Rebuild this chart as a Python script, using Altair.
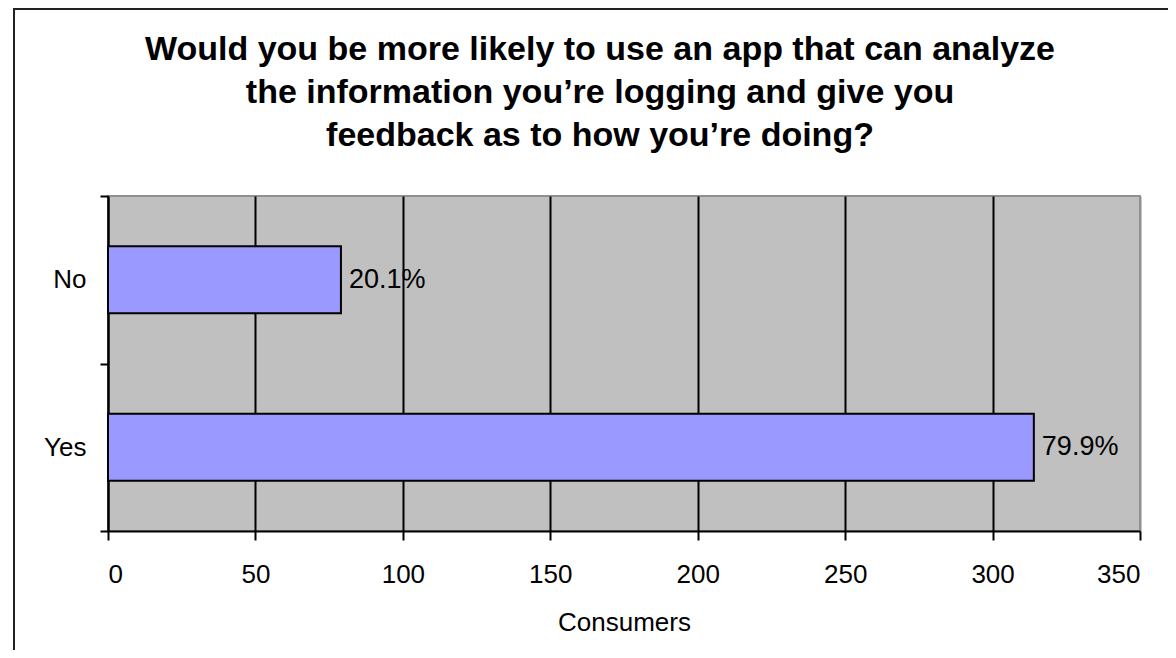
import altair as alt
import pandas as pd

answers = ["No", "Yes"]
consumers = [79, 314]
title_lines = [
    "Would you be more likely to use an app that can analyze",
    "the information you\u2019re logging and give you",
    "feedback as to how you\u2019re doing?",
]
x_ticks = [0, 50, 100, 150, 200, 250, 300, 350]

df = pd.DataFrame({"answer": answers, "consumers": consumers})
title_df = pd.DataFrame({"t": ["\n".join(title_lines)]})

FONT = "Liberation Sans"

base = alt.Chart(df).transform_joinaggregate(
    total="sum(consumers)"
).transform_calculate(
    pct="datum.consumers / datum.total"
)

y_enc = alt.Y(
    "answer:N",
    sort=answers,
    scale=alt.Scale(paddingInner=0, paddingOuter=0),
    axis=alt.Axis(
        title=None,
        labelFontSize=26,
        labelFont=FONT,
        labelColor="black",
        labelPadding=14,
        tickBand="extent",
        tickSize=8,
        tickColor="black",
        tickWidth=2,
        domainColor="black",
        domainWidth=2,
        grid=False,
    ),
)

x_enc = alt.X(
    "consumers:Q",
    scale=alt.Scale(domain=[0, 350], nice=False),
    axis=alt.Axis(
        values=x_ticks,
        title="Consumers",
        titleFontSize=26,
        titleFont=FONT,
        titleFontWeight="normal",
        titleColor="black",
        titlePadding=22,
        labelFontSize=26,
        labelFont=FONT,
        labelColor="black",
        labelPadding=21,
        tickSize=9,
        tickColor="black",
        tickWidth=2,
        domainColor="black",
        domainWidth=2,
        grid=True,
        gridColor=alt.condition("datum.value == 350", alt.value("#909090"), alt.value("black")),
        gridWidth=2,
    ),
)

bars = base.mark_bar(
    color="#9999FF", stroke="black", strokeWidth=2, height={"band": 0.4}
).encode(x=x_enc, y=y_enc)

labels = base.mark_text(
    align="left", baseline="middle", dx=8, fontSize=27, font=FONT, color="black"
).encode(
    x="consumers:Q",
    y=alt.Y("answer:N", sort=answers),
    text=alt.Text("pct:Q", format=".1%"),
)

title = alt.Chart(title_df).mark_text(
    align="center", baseline="middle", lineBreak="\n", lineHeight=43,
    fontSize=34, font=FONT, fontWeight="bold", color="black", clip=False,
).encode(x=alt.value(492), y=alt.value(-146), text="t:N")

frame_v = alt.Chart(title_df).mark_rule(color="#222222", strokeWidth=2, clip=False).encode(
    x=alt.value(-94), y=alt.value(-188), y2=alt.value(470)
)
frame_h = alt.Chart(title_df).mark_rule(color="#222222", strokeWidth=2, clip=False).encode(
    x=alt.value(-95), x2=alt.value(1100), y=alt.value(-187)
)

chart = alt.layer(bars, labels, title, frame_v, frame_h).properties(
    width=1032,
    height=335,
    autosize=alt.AutoSizeParams(type="none"),
    padding={"left": 100, "top": 188, "right": 28, "bottom": 119},
    background="white",
).configure_view(
    fill="#C0C0C0", stroke="#909090", strokeWidth=2
)

chart.save("out.html", embed_options={"renderer": "svg", "actions": False})
